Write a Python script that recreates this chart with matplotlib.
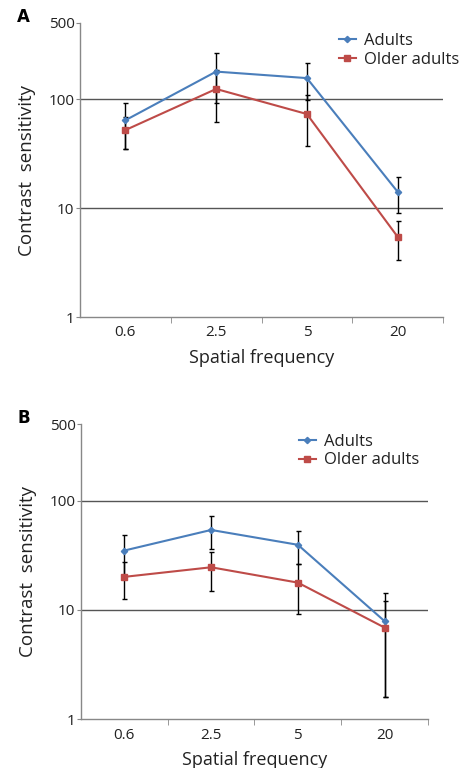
import matplotlib
matplotlib.use("Agg")
import matplotlib.pyplot as plt
from matplotlib.ticker import FixedLocator, NullFormatter, NullLocator

plt.rcParams['font.family'] = ['Open Sans', 'DejaVu Sans']

# data
freqs = ['0.6', '2.5', '5', '20']

a_adults = [64, 179, 156, 14.1]
a_adults_err = [29, 86, 58, 5.1]
a_older = [52, 124, 73, 5.45]
a_older_err = [17, 62, 36, 2.1]

b_adults = [35, 54, 39.5, 7.9]
b_adults_err = [14, 18, 13, 6.3]
b_older = [20.1, 24.6, 17.8, 6.9]
b_older_err = [7.5, 9.6, 8.7, 5.3]

yticks = [1, 10, 100, 500]

blue = '#4a7ebb'
red = '#be4b48'
W, H = 464, 768


def panel(rect, letter, adults, adults_err, older, older_err, leg_xy):
    ax = fig.add_axes(rect)
    x = list(range(len(freqs)))
    ax.set_yscale('log')
    ax.set_ylim(1, 500)
    ax.set_xlim(-0.5, len(freqs) - 0.5)

    for yv in (10, 100):
        ax.axhline(yv, color='#555555', lw=1.0, zorder=1)

    ax.errorbar(x, adults, yerr=adults_err, fmt='none', ecolor='black',
                elinewidth=1.0, capsize=1.8, capthick=1.0, zorder=2)
    ax.errorbar(x, older, yerr=older_err, fmt='none', ecolor='black',
                elinewidth=1.0, capsize=1.8, capthick=1.0, zorder=2)
    ax.plot(x, adults, color=blue, lw=1.5, marker='D', ms=3.2,
            label='Adults', zorder=3)
    ax.plot(x, older, color=red, lw=1.5, marker='s', ms=4.5,
            label='Older adults', zorder=3)

    for s in ('top', 'right'):
        ax.spines[s].set_visible(False)
    for s in ('left', 'bottom'):
        ax.spines[s].set_color('#888888')
        ax.spines[s].set_linewidth(1.0)

    ax.yaxis.set_major_locator(FixedLocator(yticks))
    ax.yaxis.set_minor_locator(NullLocator())
    ax.set_yticklabels([str(v) for v in yticks])
    ax.tick_params(axis='y', which='major', length=3, color='#888888',
                   labelsize=11, pad=1, labelcolor='#222222')

    ax.set_xticks(x)
    ax.set_xticklabels(freqs)
    ax.xaxis.set_minor_locator(FixedLocator([i + 0.5 for i in x]))
    ax.xaxis.set_minor_formatter(NullFormatter())
    ax.tick_params(axis='x', which='major', length=0, labelsize=11,
                   pad=6, labelcolor='#222222')
    ax.tick_params(axis='x', which='minor', length=4, color='#888888')

    ax.set_xlabel('Spatial frequency', fontsize=13, labelpad=6,
                  color='#222222')
    ax.set_ylabel('Contrast  sensitivity', fontsize=13.5, labelpad=9,
                  color='#222222')

    leg = ax.legend(loc='upper left', bbox_to_anchor=leg_xy,
                    bbox_transform=fig.transFigure, frameon=False,
                    fontsize=12, handlelength=1.0, handletextpad=0.5,
                    borderpad=0, labelspacing=0.15, borderaxespad=0)
    for t in leg.get_texts():
        t.set_color('#222222')

    fig.text(rect[0] - 63 / W, rect[1] + rect[3] - 3 / H, letter,
             fontsize=12, fontweight='bold', va='bottom', ha='left',
             family='DejaVu Sans')
    return ax


fig = plt.figure(figsize=(W / 100, H / 100), dpi=100)

panel([80 / W, 1 - 317 / H, 363 / W, 294 / H], 'A',
      a_adults, a_adults_err, a_older, a_older_err,
      (339 / W, 1 - 33 / H))
panel([81 / W, 1 - 719.3 / H, 347 / W, 295 / H], 'B',
      b_adults, b_adults_err, b_older, b_older_err,
      (299 / W, 1 - 434 / H))

fig.savefig('out.png', dpi=100)
